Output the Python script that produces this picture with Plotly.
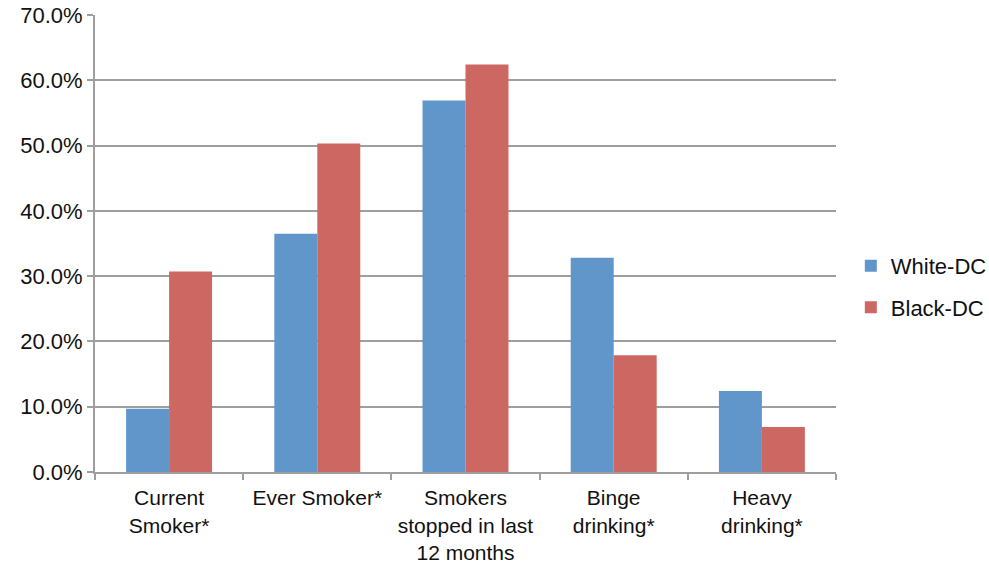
import plotly.graph_objects as go

categories = ["Current<br>Smoker*", "Ever Smoker*", "Smokers<br>stopped in last<br>12 months",
              "Binge<br>drinking*", "Heavy<br>drinking*"]
white_dc = [9.7, 36.5, 56.9, 32.8, 12.4]
black_dc = [30.7, 50.3, 62.4, 17.9, 6.9]
y_ticks = [0, 10, 20, 30, 40, 50, 60, 70]

BLUE = "#6096C9"
RED = "#CD6761"
GRID = "#9E9E9E"
FONT = "Liberation Sans, Arial, Helvetica, sans-serif"

fig = go.Figure()
fig.add_trace(go.Bar(name="White-DC", x=categories, y=white_dc, marker_color=BLUE,
                     marker_line_width=0, legendgroup="w"))
fig.add_trace(go.Bar(name="Black-DC", x=categories, y=black_dc, marker_color=RED,
                     marker_line_width=0, legendgroup="b"))

fig.update_layout(
    width=989, height=564,
    margin=dict(l=95, r=153, t=15, b=92, autoexpand=False),
    paper_bgcolor="white", plot_bgcolor="white",
    barmode="group", bargap=0.42, bargroupgap=0,
    font=dict(family=FONT, size=21, color="#111111"),
    legend=dict(x=1.02, y=0.405, xanchor="left", yanchor="middle",
                font=dict(size=22), itemwidth=30, tracegroupgap=10,
                traceorder="grouped"),
    showlegend=True,
)
fig.update_xaxes(
    showline=True, linecolor=GRID, linewidth=2,
    ticks="outside", tickson="boundaries", ticklen=6, tickcolor=GRID, tickwidth=2,
    showgrid=False, tickfont=dict(size=21), ticklabelstandoff=6,
)
fig.update_yaxes(
    range=[0, 70], tickvals=y_ticks,
    ticktext=[f"{v:.1f}%" for v in y_ticks],
    showline=True, linecolor=GRID, linewidth=2,
    ticks="outside", ticklen=6, tickcolor=GRID, tickwidth=2,
    showgrid=True, gridcolor=GRID, gridwidth=2, zeroline=False,
    tickfont=dict(size=22),
)

fig.write_html("out.html")
